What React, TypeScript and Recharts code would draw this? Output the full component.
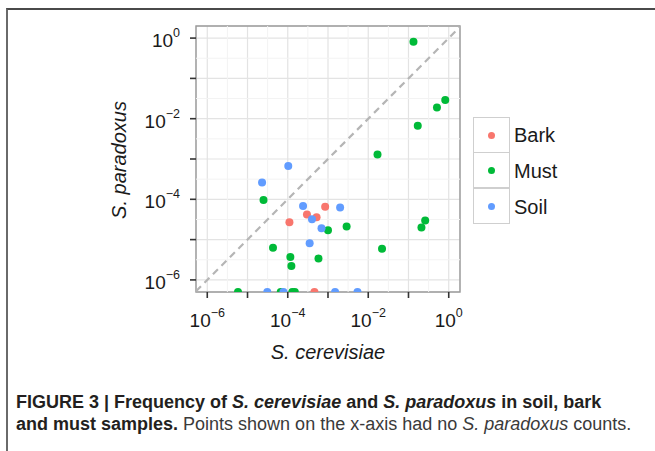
import React from "react";
import {
  ScatterChart, Scatter, XAxis, YAxis, CartesianGrid, ReferenceLine, ReferenceArea,
} from "recharts";

// sample types and their ggplot hues
const groups = ["Bark", "Must", "Soil"];
const groupColors = ["#F8766D", "#00BA38", "#619CFF"];

// frequencies per sample; paradoxus 0 = no S. paradoxus counts (drawn on the x-axis)
const barkCerevisiae = [8.5e-4, 3.0e-4, 5.2e-4, 1.1e-4, 4.6e-4];
const barkParadoxus = [6.5e-5, 4.2e-5, 3.6e-5, 2.7e-5, 0];

const mustCerevisiae = [
  0.133, 0.82, 0.51, 0.17, 0.017, 2.5e-5, 1.0e-3, 2.9e-3, 4.3e-5, 1.16e-4,
  5.8e-4, 1.23e-4, 0.26, 0.21, 0.022, 5.8e-6, 6.7e-5, 1.3e-4, 1.5e-4,
];
const mustParadoxus = [
  0.81, 0.029, 0.019, 0.0067, 0.0013, 9.6e-5, 1.7e-5, 2.1e-5, 6.3e-6, 3.7e-6,
  3.4e-6, 2.2e-6, 3.0e-5, 2.0e-5, 5.9e-6, 0, 0, 0, 0,
];

const soilCerevisiae = [1.03e-4, 2.3e-5, 2.4e-4, 2.0e-3, 4.0e-4, 6.9e-4, 3.5e-4, 3.1e-5, 7.8e-5, 1.5e-3, 5.4e-3];
const soilParadoxus = [6.7e-4, 2.6e-4, 6.8e-5, 6.3e-5, 3.2e-5, 1.9e-5, 8.1e-6, 0, 0, 0, 0];

// axes in log10 units
const decadeTicks = [-6, -5, -4, -3, -2, -1, 0];
const halfDecades = [-5.5, -4.5, -3.5, -2.5, -1.5, -0.5];
const xDomain = [-6.28, 0.28];
const yDomain = [-6.3, 0.3];

const FONT = "'Liberation Sans', Arial, Helvetica, sans-serif";

function toPoints(cer: number[], par: number[]) {
  return cer.map((c, i) => ({
    x: Math.log10(c),
    y: par[i] > 0 ? Math.log10(par[i]) : yDomain[0],
  }));
}

const series = [
  toPoints(barkCerevisiae, barkParadoxus),
  toPoints(mustCerevisiae, mustParadoxus),
  toPoints(soilCerevisiae, soilParadoxus),
];

function powerLabel(e: number) {
  return e === 0 ? "0" : "\u2212" + Math.abs(e);
}

function XTick(props: any) {
  const { x, y, payload } = props;
  if (payload.value % 2 !== 0) return <g />;
  return (
    <text x={x} y={y + 27} textAnchor="middle" fill="#1a1a1a" fontSize={19} fontFamily={FONT}>
      <tspan>10</tspan>
      <tspan dy={-10} fontSize={12.5}>{powerLabel(payload.value)}</tspan>
    </text>
  );
}

function YTick(props: any) {
  const { x, y, payload } = props;
  if (payload.value % 2 !== 0) return <g />;
  return (
    <text x={x} y={y + 9} textAnchor="end" fill="#1a1a1a" fontSize={19} fontFamily={FONT}>
      <tspan>10</tspan>
      <tspan dy={-10} fontSize={12.5}>{powerLabel(payload.value)}</tspan>
    </text>
  );
}

export default function App() {
  return (
    <div style={{ position: "fixed", inset: 0, background: "#fff", overflow: "hidden", fontFamily: FONT }}>
      {/* figure frame */}
      <div style={{
        position: "absolute", left: 6, top: 8, right: -10, bottom: -10,
        borderTop: "2px solid #4a4a4a", borderLeft: "2px solid #6a6a6a",
      }} />

      <div style={{ position: "absolute", left: 0, top: 0 }}>
        <ScatterChart width={655} height={345} margin={{ top: 26, right: 195, bottom: 13, left: 136 }}>
          <CartesianGrid stroke="#e3e3e3" strokeWidth={1.2} />
          {halfDecades.map((v) => (
            <ReferenceLine key={"vx" + v} x={v} stroke="#f3f3f3" strokeWidth={1} />
          ))}
          {halfDecades.map((v) => (
            <ReferenceLine key={"hy" + v} y={v} stroke="#f3f3f3" strokeWidth={1} />
          ))}
          <XAxis
            type="number" dataKey="x" domain={xDomain} ticks={decadeTicks} allowDataOverflow
            axisLine={false} tickSize={6} tickLine={{ stroke: "#333", strokeWidth: 1.6 }}
            tick={<XTick />} height={40} interval={0}
          />
          <YAxis
            type="number" dataKey="y" domain={yDomain} ticks={decadeTicks} allowDataOverflow
            axisLine={false} tickSize={6} tickMargin={10} tickLine={{ stroke: "#333", strokeWidth: 1.6 }}
            tick={<YTick />} width={60} interval={0}
          />
          <ReferenceLine
            segment={[{ x: xDomain[0], y: xDomain[0] }, { x: xDomain[1], y: xDomain[1] }]}
            stroke="#b5b5b5" strokeWidth={2.2} strokeDasharray="7 5"
          />
          {series.map((pts, i) => (
            <Scatter
              key={groups[i]} name={groups[i]} data={pts} fill={groupColors[i]} isAnimationActive={false}
              shape={(p: any) => <circle cx={p.cx} cy={p.cy} r={4} fill={groupColors[i]} />}
            />
          ))}
          <ReferenceArea
            x1={xDomain[0]} x2={xDomain[1]} y1={yDomain[0]} y2={yDomain[1]}
            fill="none" stroke="#9a9a9a" strokeWidth={1.4}
          />
        </ScatterChart>
      </div>

      {/* axis titles */}
      <div style={{
        position: "absolute", left: 228, width: 200, top: 341, textAlign: "center",
        fontSize: 20, fontStyle: "italic", color: "#1a1a1a",
      }}>S. cerevisiae</div>
      <div style={{
        position: "absolute", left: 119, top: 160, width: 200, marginLeft: -100, marginTop: -12,
        textAlign: "center", fontSize: 20, fontStyle: "italic", color: "#1a1a1a",
        transform: "rotate(-90deg)", lineHeight: "24px",
      }}>S. paradoxus</div>

      {/* legend */}
      <div style={{ position: "absolute", left: 473, top: 117 }}>
        {groups.map((g, i) => (
          <div key={g} style={{ display: "flex", alignItems: "center", height: 36 }}>
            <div style={{
              width: 35, height: 34, border: "1.5px solid #cfcfcf", marginTop: i === 0 ? 0 : -1.5,
              display: "flex", alignItems: "center", justifyContent: "center", boxSizing: "content-box",
            }}>
              <div style={{ width: 7, height: 7, borderRadius: "50%", background: groupColors[i] }} />
            </div>
            <div style={{ marginLeft: 4, fontSize: 20, color: "#1a1a1a" }}>{g}</div>
          </div>
        ))}
      </div>

      {/* caption */}
      <div style={{
        position: "absolute", left: 16, top: 391, whiteSpace: "nowrap", fontSize: 18, lineHeight: "22px",
        color: "#231f20",
      }}>
        <b>FIGURE 3 | Frequency of <i>S. cerevisiae</i> and <i>S. paradoxus</i> in soil, bark</b>
        <br />
        <b>and must samples.</b>
        <span style={{ color: "#3a3a3a" }}> Points shown on the x-axis had no <i>S. paradoxus</i> counts.</span>
      </div>
    </div>
  );
}
